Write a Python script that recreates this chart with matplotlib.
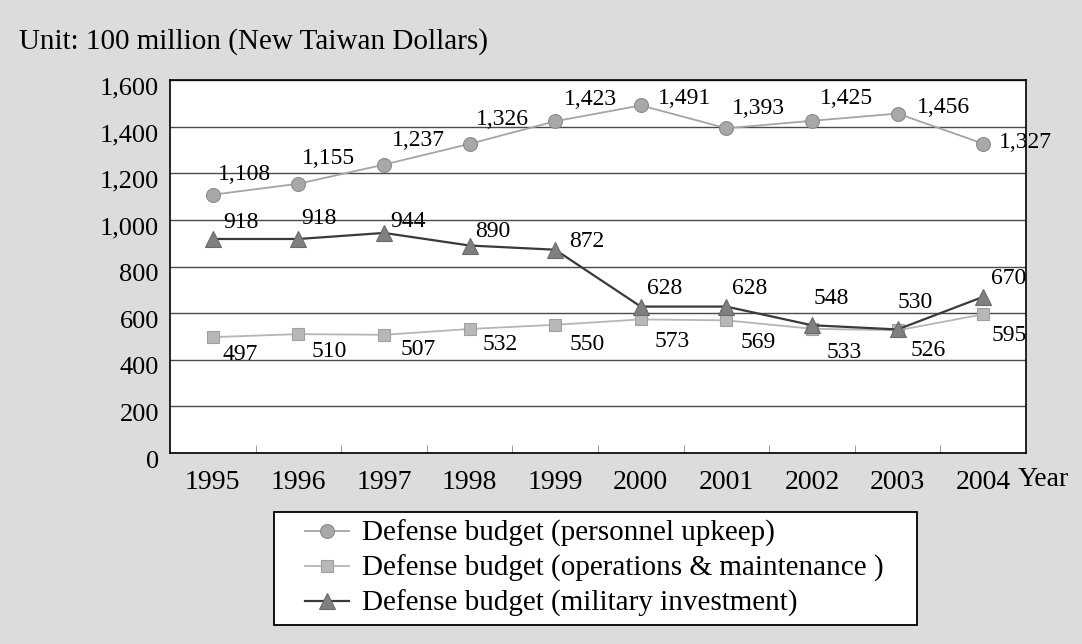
import matplotlib
matplotlib.use("Agg")
import matplotlib.pyplot as plt
import matplotlib.transforms as mtransforms
from matplotlib.patches import Rectangle
import numpy as np

plt.rcParams["font.family"] = ["Liberation Serif", "DejaVu Serif"]

years = ["1995", "1996", "1997", "1998", "1999", "2000", "2001", "2002", "2003", "2004"]
personnel = [1108, 1155, 1237, 1326, 1423, 1491, 1393, 1425, 1456, 1327]
operations = [497, 510, 507, 532, 550, 573, 569, 533, 526, 595]
investment = [918, 918, 944, 890, 872, 628, 628, 548, 530, 670]

# label offsets in pixels (dx, dy) from each point
personnel_off = [(32, 20), (30, 25), (34, 24), (33, 24), (35, 22), (44, 7), (32, 20), (34, 22), (46, 6), (42, 1)]
operations_off = [(27, -17), (31, -17), (34, -15), (31, -16), (32, -20), (31, -22), (32, -22), (32, -24), (31, -20), (26, -21)]
investment_off = [(28, 16), (21, 20), (24, 11), (23, 14), (32, 8), (24, 18), (23, 18), (19, 27), (18, 27), (25, 18)]

W, H = 1082, 644
fig = plt.figure(figsize=(W / 100, H / 100), dpi=100, facecolor="#dcdcdc")
ax = fig.add_axes([170 / W, 1 - 453 / H, 856 / W, 373 / H])
ax.set_facecolor("white")

x = np.arange(len(years))

l1, = ax.plot(x, personnel, color="#a5a5a5", lw=1.3, marker="o", ms=10,
              mfc="#a8a8a8", mec="#8c8c8c", mew=0.8, zorder=4)
l2, = ax.plot(x, operations, color="#b5b5b5", lw=1.3, marker="s", ms=9,
              mfc="#b8b8b8", mec="#a0a0a0", mew=0.8, zorder=3)
l3, = ax.plot(x, investment, color="#3a3a3a", lw=1.6, marker="^", ms=12,
              mfc="#808080", mec="#6a6a6a", mew=0.8, zorder=5)

def label_points(vals, offs):
    for xi, v, (dx, dy) in zip(x, vals, offs):
        ax.annotate(f"{v:,}", (xi, v), xytext=(dx, dy), textcoords="offset pixels",
                    ha="center", va="center", fontsize=17, zorder=6)

label_points(personnel, personnel_off)
label_points(operations, operations_off)
label_points(investment, investment_off)

ax.set_xlim(-0.5, len(years) - 0.5)
ax.set_ylim(0, 1600)
ax.set_yticks(range(0, 1601, 200))
ax.set_yticklabels([f"{v:,}" for v in range(0, 1601, 200)], fontsize=19)
ax.yaxis.grid(True, color="#4a4a4a", lw=1.0)
ax.set_axisbelow(True)
ax.tick_params(axis="y", length=0, pad=8)
shift = mtransforms.ScaledTranslation(0, -6 / 100, fig.dpi_scale_trans)
for lab in ax.get_yticklabels():
    lab.set_transform(lab.get_transform() + shift)

ax.set_xticks(x)
ax.set_xticklabels(years, fontsize=20)
ax.set_xticks(np.arange(0.5, len(years) - 0.5), minor=True)
ax.tick_params(axis="x", which="major", length=0, pad=12)
ax.tick_params(axis="x", which="minor", direction="in", length=6, color="#888888")
ax.text((1018 - 170) / 856, -0.072, "Year", transform=ax.transAxes, fontsize=20,
        ha="left", va="center")

for s in ax.spines.values():
    s.set_color("black")
    s.set_linewidth(1.2)

fig.text(19 / W, 1 - 42 / H, "Unit: 100 million (New Taiwan Dollars)",
         fontsize=21, ha="left", va="center")

# legend box drawn separately so the padding can differ per side
fig.patches.append(Rectangle((274 / W, 1 - 625 / H), 643 / W, 113 / H,
                             transform=fig.transFigure, facecolor="white",
                             edgecolor="black", lw=1.3, zorder=1))
leg = fig.legend([l1, l2, l3],
                 ["Defense budget (personnel upkeep)",
                  "Defense budget (operations & maintenance )",
                  "Defense budget (military investment)"],
                 loc="upper left", bbox_to_anchor=(305 / W, 1 - 520 / H),
                 fontsize=21, frameon=False, handlelength=1.5,
                 handletextpad=0.45, labelspacing=0.26, borderpad=0,
                 borderaxespad=0, markerscale=1.0)
leg.set_zorder(2)

fig.savefig("out.png", dpi=100, facecolor=fig.get_facecolor())
